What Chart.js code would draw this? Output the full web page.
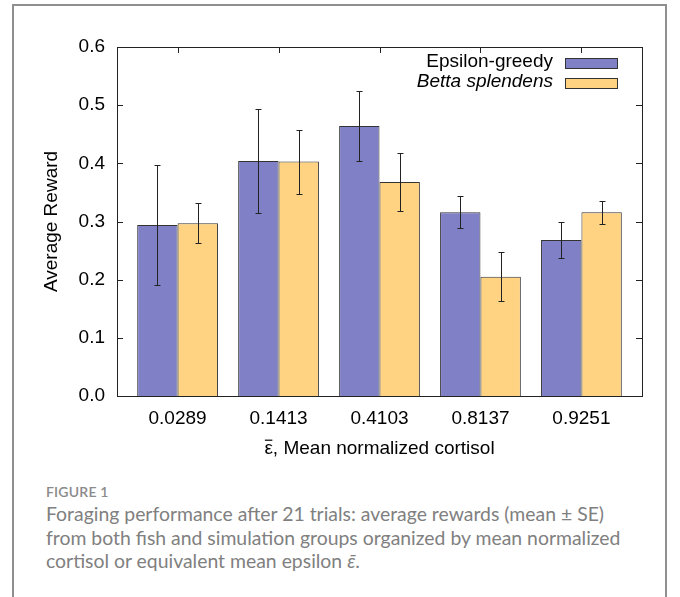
<!DOCTYPE html>
<html>
<head>
<meta charset="utf-8">
<script src="https://cdn.jsdelivr.net/npm/chart.js@4.4.1/dist/chart.umd.min.js"></script>
<style>
  body { margin: 0; background: #fff; width: 680px; height: 597px; overflow: hidden; position: relative; }
  #frame { position: absolute; left: 12px; top: 4px; width: 651px; height: 640px; border: 2px solid #8f8f8f; }
  #wrap { position: absolute; left: 0; top: 0; width: 680px; height: 470px; }
  #fig { position: absolute; left: 46px; top: 483px; font: 600 14px Lato, "Open Sans", sans-serif; color: #8a8a8a; letter-spacing: 0.2px; }
  #cap { position: absolute; left: 46px; top: 502px; font: 19.4px Lato, "Open Sans", sans-serif; line-height: 23.5px; color: #808080; white-space: nowrap; }
</style>
</head>
<body>
<div id="frame"></div>
<div id="wrap"><canvas id="myChart" width="680" height="470"></canvas></div>
<div id="fig">FIGURE 1</div>
<div id="cap">Foraging performance after 21 trials: average rewards (mean ± SE)<br>from both fish and simulation groups organized by mean normalized<br>cortisol or equivalent mean epsilon <i>ε̄</i>.</div>
<script>
const categories = ['0.0289', '0.1413', '0.4103', '0.8137', '0.9251'];
const greedy = [0.294, 0.404, 0.464, 0.316, 0.268];
const greedyErr = [0.103, 0.090, 0.060, 0.027, 0.031];
const betta = [0.297, 0.403, 0.368, 0.205, 0.316];
const bettaErr = [0.034, 0.055, 0.050, 0.042, 0.020];
const yTicks = [0, 0.1, 0.2, 0.3, 0.4, 0.5, 0.6];

const errors = [greedyErr, bettaErr];
const FONT = "'Liberation Sans', Arial, sans-serif";

Chart.defaults.font.family = FONT;
Chart.defaults.font.size = 19;
Chart.defaults.color = '#000';

// frame and inward tick marks, gnuplot style
const framePlugin = {
    id: 'frame',
    afterDatasetsDraw(chart) {
        const {ctx, chartArea: a, scales: {x, y}} = chart;
        ctx.save();
        ctx.strokeStyle = '#222';
        ctx.lineWidth = 1;
        ctx.beginPath();
        yTicks.slice(1, -1).forEach(v => {
            const py = Math.round(y.getPixelForValue(v)) + 0.5;
            ctx.moveTo(a.left, py); ctx.lineTo(a.left + 6, py);
            ctx.moveTo(a.right, py); ctx.lineTo(a.right - 6, py);
        });
        categories.forEach((c, i) => {
            const px = Math.round(x.getPixelForValue(i)) + 0.5;
            ctx.moveTo(px, a.top); ctx.lineTo(px, a.top + 6);
        });
        ctx.stroke();
        ctx.strokeRect(Math.round(a.left) + 0.5, Math.round(a.top) + 0.5,
            Math.round(a.right - a.left), Math.round(a.bottom - a.top));

        // bar over the epsilon in the x title
        const t = x.options.title;
        ctx.font = '19px ' + FONT;
        const full = ctx.measureText(t.text).width;
        const eps = ctx.measureText('ε').width;
        const x0 = (x.left + x.right) / 2 - full / 2;
        const ty = x.bottom - 10.8 - t.padding.bottom - 9;
        ctx.strokeStyle = '#000';
        ctx.lineWidth = 1.2;
        ctx.beginPath();
        ctx.moveTo(x0 + 0.5, ty); ctx.lineTo(x0 + eps - 0.5, ty);
        ctx.stroke();
        ctx.restore();
    }
};

const errorPlugin = {
    id: 'errbars',
    afterDatasetsDraw(chart) {
        const {ctx, scales: {y}} = chart;
        ctx.save();
        ctx.strokeStyle = '#222';
        ctx.lineWidth = 1;
        ctx.beginPath();
        chart.data.datasets.forEach((ds, d) => {
            chart.getDatasetMeta(d).data.forEach((bar, i) => {
                const v = ds.data[i].y, e = errors[d][i];
                const px = Math.round(bar.x) + 0.5;
                const top = Math.round(y.getPixelForValue(v + e)) + 0.5;
                const bot = Math.round(y.getPixelForValue(v - e)) + 0.5;
                ctx.moveTo(px, top); ctx.lineTo(px, bot);
                ctx.moveTo(px - 3, top); ctx.lineTo(px + 3, top);
                ctx.moveTo(px - 3, bot); ctx.lineTo(px + 3, bot);
            });
        });
        ctx.stroke();
        ctx.restore();
    }
};

const legendPlugin = {
    id: 'keybox',
    afterDraw(chart) {
        const {ctx} = chart;
        ctx.save();
        chart.data.datasets.forEach((ds, d) => {
            const base = 67 + d * 20;
            ctx.font = (d === 1 ? 'italic ' : '') + '19px ' + FONT;
            ctx.fillStyle = '#000';
            ctx.textAlign = 'right';
            ctx.textBaseline = 'alphabetic';
            ctx.fillText(ds.label, 553, base);
            ctx.fillStyle = ds.backgroundColor;
            ctx.fillRect(565, base - 9, 53, 10);
            ctx.strokeStyle = '#333';
            ctx.lineWidth = 1;
            ctx.strokeRect(565.5, base - 8.5, 52, 10);
        });
        ctx.restore();
    }
};

const data = {
    datasets: [{
        label: 'Epsilon-greedy',
        data: greedy.map((v, i) => ({x: i, y: v})),
        backgroundColor: '#8080c6',
        borderColor: '#333',
        borderWidth: 1,
        categoryPercentage: 0.8,
        barPercentage: 1.0
    }, {
        label: 'Betta splendens',
        data: betta.map((v, i) => ({x: i, y: v})),
        backgroundColor: '#ffd382',
        borderColor: '#333',
        borderWidth: 1,
        categoryPercentage: 0.8,
        barPercentage: 1.0
    }]
};

const config = {
    type: 'bar',
    data,
    options: {
        responsive: false,
        animation: false,
        devicePixelRatio: 1,
        layout: {padding: {left: 40, top: 47, right: 38, bottom: 0}},
        scales: {
            x: {
                type: 'linear',
                offset: false,
                min: -0.6,
                max: 4.6,
                afterBuildTicks: s => { s.ticks = categories.map((c, i) => ({value: i})); },
                afterFit: s => { s.height = 74; },
                grid: {display: false, drawTicks: false, offset: false},
                border: {display: false},
                ticks: {padding: 11, callback: v => categories[v]},
                title: {display: true, text: 'ε, Mean normalized cortisol', padding: {top: 0, bottom: 10}}
            },
            y: {
                min: 0,
                max: 0.6,
                afterBuildTicks: s => { s.ticks = yTicks.map(v => ({value: v})); },
                afterFit: s => { s.width = 77; },
                grid: {display: false, drawTicks: false},
                border: {display: false},
                ticks: {padding: 12, callback: v => v.toFixed(1)},
                title: {display: true, text: 'Average Reward', padding: {top: 0, bottom: 0}}
            }
        },
        plugins: {
            legend: {display: false},
            tooltip: {enabled: false}
        }
    },
    plugins: [framePlugin, errorPlugin, legendPlugin]
};

const myChart = new Chart(document.getElementById('myChart'), config);
</script>
</body>
</html>
